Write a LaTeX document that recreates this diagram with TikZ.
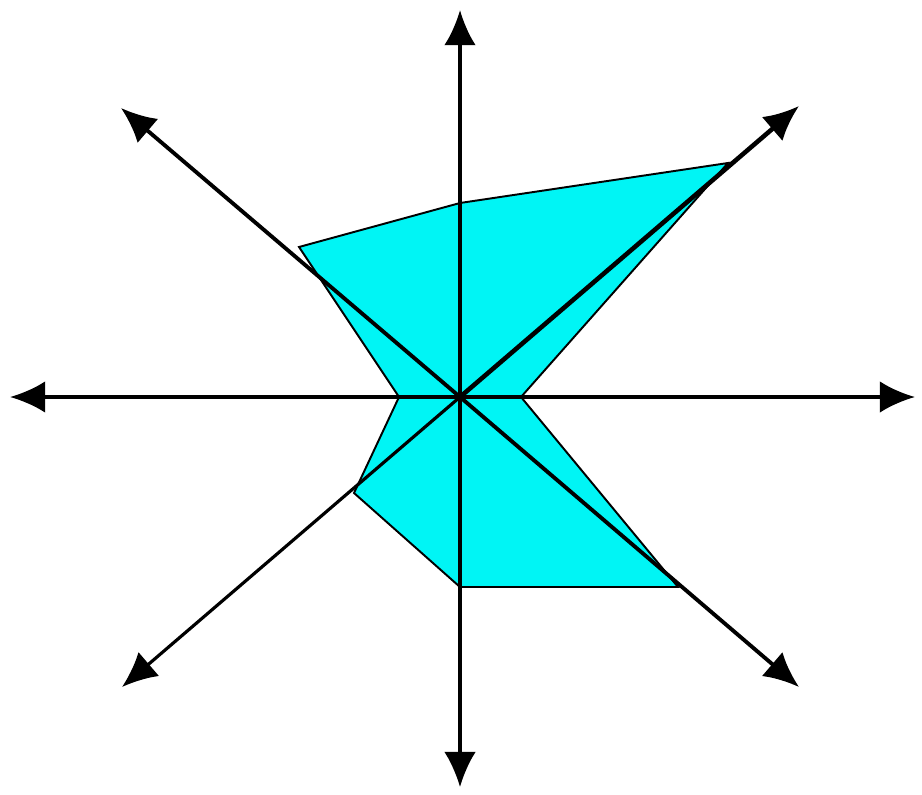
\documentclass[tikz,border=0pt]{standalone}
\usetikzlibrary{arrows.meta}
\definecolor{polycyan}{RGB}{0,245,245}
\begin{document}
\begin{tikzpicture}[x=0.01cm,y=-0.01cm,
  axis/.style={line width=1.1pt,-{Latex[length=10pt,width=9pt]}},
  poly/.style={fill=polycyan,draw=black,line width=0.55pt,line join=miter}]
\useasboundingbox (0,0) rectangle (922,794);
\coordinate (O) at (460,397);
\coordinate (tN) at (460,10);
\coordinate (tS) at (460,787);
\coordinate (tW) at (10,397);
\coordinate (tE) at (915,397);
\coordinate (tNW) at (121,108);
\coordinate (tNE) at (799,106);
\coordinate (tSW) at (122,687);
\coordinate (tSE) at (799,687);
% polygon vertices
\coordinate (pN) at (460,203);
\coordinate (pNE) at (728,163);
\coordinate (pE) at (521,397);
\coordinate (pSE) at (678,587);
\coordinate (pS) at (460,587);
\coordinate (pSW) at (354,493);
\coordinate (pW) at (399,397);
\coordinate (pNW) at (299,247);
\draw[poly] (pN) -- (pNE) -- (pE) -- (pSE) -- (pS) -- (pSW) -- (pW) -- (pNW) -- cycle;
\draw[axis] (O) -- (tN);
\draw[axis,line width=0.9pt] (O) -- (tS);
\draw[axis] (O) -- (tW);
\draw[axis] (O) -- (tE);
\draw[axis] (O) -- (tNW);
\draw[axis,line width=1.3pt] (O) -- (tNE);
\draw[axis,line width=0.9pt] (O) -- (tSW);
\draw[axis] (O) -- (tSE);
\end{tikzpicture}
\end{document}
